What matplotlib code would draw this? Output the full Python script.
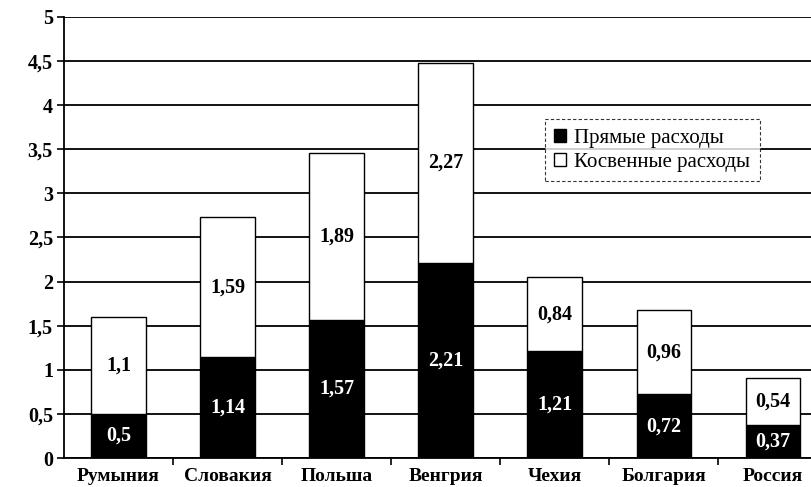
import matplotlib
matplotlib.use("Agg")
import matplotlib.pyplot as plt
from matplotlib.patches import Patch

countries = ["Румыния", "Словакия", "Польша", "Венгрия", "Чехия", "Болгария", "Россия"]
direct = [0.5, 1.14, 1.57, 2.21, 1.21, 0.72, 0.37]
indirect = [1.1, 1.59, 1.89, 2.27, 0.84, 0.96, 0.54]
yticks = [0, 0.5, 1, 1.5, 2, 2.5, 3, 3.5, 4, 4.5, 5]
ytick_labels = ["0", "0,5", "1", "1,5", "2", "2,5", "3", "3,5", "4", "4,5", "5"]

def fmt(v):
    return f"{v:g}".replace(".", ",")

plt.rcParams["font.family"] = ["Liberation Serif", "DejaVu Serif"]

fig = plt.figure(figsize=(8.11, 4.87), dpi=100)
ax = fig.add_axes([64 / 811, 29 / 487, 1 - 64 / 811, (458 - 17) / 487])

x = list(range(len(countries)))
ax.set_axisbelow(True)
ax.yaxis.grid(True, color="black", linewidth=1.3)
ax.bar(x, direct, width=0.5, color="black", edgecolor="black", linewidth=1, zorder=3)
ax.bar(x, indirect, width=0.5, bottom=direct, color="white", edgecolor="black",
       linewidth=1, zorder=3)

for i, (d, s) in enumerate(zip(direct, indirect)):
    ax.text(i, d / 2, fmt(d), ha="center", va="center", color="white",
            fontsize=14.5, fontweight="bold", zorder=4)
    ax.text(i, d + s / 2, fmt(s), ha="center", va="center", color="black",
            fontsize=14.5, fontweight="bold", zorder=4)

ax.set_ylim(0, 5)
ax.set_xlim(-0.5, 6.35)
ax.set_yticks(yticks)
ax.set_yticklabels(ytick_labels, fontsize=14.5, fontweight="bold")
ax.set_xticks(x)
ax.set_xticklabels(countries, fontsize=14, fontweight="bold")
ax.set_xticks([i + 0.5 for i in range(len(countries) - 1)], minor=True)
ax.tick_params(axis="x", which="major", length=0, pad=7)
ax.tick_params(axis="x", which="minor", length=5, width=1.2, direction="out")
ax.tick_params(axis="y", length=5, width=1.2, direction="out", pad=3)

for side in ("top", "right"):
    ax.spines[side].set_visible(False)
ax.spines["left"].set_linewidth(1.3)
ax.spines["bottom"].set_linewidth(1.3)

handles = [Patch(facecolor="black", edgecolor="black", label="Прямые расходы"),
           Patch(facecolor="white", edgecolor="black", label="Косвенные расходы")]
leg = ax.legend(handles=handles, loc="upper left", bbox_to_anchor=(0.644, 0.768),
                fontsize=15, frameon=True, fancybox=False, handlelength=0.55,
                handleheight=0.55, handletextpad=0.4, borderpad=0.45,
                borderaxespad=0, labelspacing=0.25)
leg.get_frame().set_edgecolor("black")
leg.get_frame().set_linestyle((0, (3, 2)))
leg.get_frame().set_linewidth(0.8)
leg.set_zorder(5)

fig.savefig("out.png", dpi=100)
